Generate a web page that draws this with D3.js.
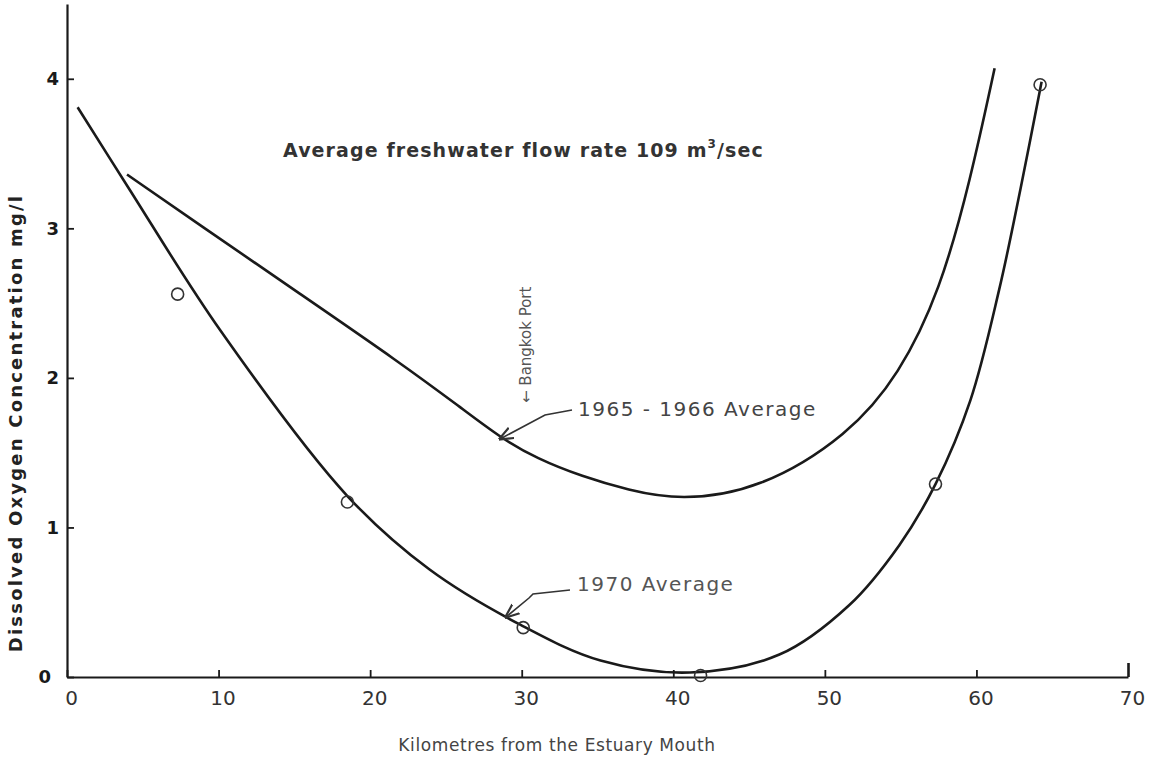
<!DOCTYPE html>
<html>
<head>
<meta charset="utf-8">
<script src="https://cdn.jsdelivr.net/npm/d3@7"></script>
<style>
  body { margin: 0; background: #fff; }
  svg text { font-family: "DejaVu Sans", "Liberation Sans", sans-serif; }
</style>
</head>
<body>
<div id="chart"></div>
<script>
// values (km from mouth, DO mg/l)
var xTicks = [0, 10, 20, 30, 40, 50, 60, 70];
var yTicks = [0, 1, 2, 3, 4];

var km1970 = [0.7, 4, 10.1, 18.5, 23.9, 29.9, 35.2, 41.1, 47.0, 51.6, 54.9, 57.3, 59.6, 61.5, 62.9, 64.3];
var do1970 = [3.81, 3.28, 2.32, 1.21, 0.72, 0.35, 0.11, 0.03, 0.15, 0.48, 0.88, 1.29, 1.85, 2.59, 3.26, 3.98];

var km6566 = [3.96, 8.8, 15.4, 22.0, 26.0, 28.6, 31.0, 34.0, 37.0, 40.4, 45.7, 51.6, 54.9, 57.6, 59.6, 61.2];
var do6566 = [3.36, 3.02, 2.56, 2.10, 1.80, 1.60, 1.46, 1.34, 1.25, 1.18, 1.25, 1.62, 2.02, 2.58, 3.32, 4.07];

var obsKm = [7.3, 18.5, 30.1, 41.8, 57.3, 64.2];
var obsDo = [2.56, 1.17, 0.33, 0.01, 1.29, 3.96];

var width = 1161, height = 770;
var margin = {left: 67, right: 33, top: 4, bottom: 93};

var svg = d3.select("#chart").append("svg")
    .attr("width", width)
    .attr("height", height);

var x = d3.scaleLinear()
    .domain([0, 70])
    .range([margin.left, width - margin.right]);
var y = d3.scaleLinear()
    .domain([0, 4.5])
    .range([height - margin.bottom, margin.top]);

var ink = "#1a1a1a";

// axes
var xAxis = svg.append("g")
    .attr("transform", "translate(0," + y(0) + ")")
    .call(d3.axisBottom(x).tickValues(xTicks).tickSizeInner(-7).tickSizeOuter(0).tickPadding(14));
xAxis.select(".domain").attr("stroke", ink).attr("stroke-width", 2.2);
xAxis.selectAll(".tick line").attr("stroke", ink).attr("stroke-width", 1.8);
xAxis.selectAll(".tick").filter(function(d) { return d == 70; }).select("line")
    .attr("y2", -14).attr("stroke-width", 2.6);
xAxis.selectAll(".tick text")
    .attr("font-size", 20)
    .attr("dx", 4)
    .attr("fill", "#333");

var yAxis = svg.append("g")
    .attr("transform", "translate(" + x(0) + ",0)")
    .call(d3.axisLeft(y).tickValues(yTicks).tickFormat(d3.format("d"))
        .tickSizeInner(-7).tickSizeOuter(0).tickPadding(8));
yAxis.select(".domain").attr("stroke", ink).attr("stroke-width", 2.2);
yAxis.selectAll(".tick line").attr("stroke", ink).attr("stroke-width", 1.8);
yAxis.selectAll(".tick text")
    .attr("font-size", 18)
    .attr("font-weight", "bold")
    .attr("fill", ink);
yAxis.selectAll(".tick").filter(function(d) { return d == 0; }).select("text")
    .attr("dx", -8);

// axis titles
svg.append("text")
    .attr("transform", "translate(22,423) rotate(-90)")
    .attr("text-anchor", "middle")
    .attr("font-size", 18)
    .attr("font-weight", "bold")
    .attr("letter-spacing", 2.2)
    .attr("fill", "#222")
    .text("Dissolved Oxygen Concentration mg/l");

svg.append("text")
    .attr("x", 557)
    .attr("y", 751)
    .attr("text-anchor", "middle")
    .attr("font-size", 17)
    .attr("letter-spacing", 0.6)
    .attr("fill", "#444")
    .text("Kilometres from the Estuary Mouth");

// curves
var line = d3.line()
    .x(function(d) { return x(d[0]); })
    .y(function(d) { return y(d[1]); })
    .curve(d3.curveCatmullRom.alpha(0.5));

// the older curve is hand-faired, a basis spline gives the same soft bend
var smooth = d3.line()
    .x(function(d) { return x(d[0]); })
    .y(function(d) { return y(d[1]); })
    .curve(d3.curveBasis);

svg.append("path")
    .datum(d3.zip(km1970, do1970))
    .attr("d", line)
    .attr("fill", "none")
    .attr("stroke", ink)
    .attr("stroke-width", 2.6);

svg.append("path")
    .datum(d3.zip(km6566, do6566))
    .attr("d", smooth)
    .attr("fill", "none")
    .attr("stroke", ink)
    .attr("stroke-width", 2.6);

svg.selectAll("circle.obs")
    .data(d3.zip(obsKm, obsDo))
    .enter()
    .append("circle")
    .attr("class", "obs")
    .attr("cx", function(d) { return x(d[0]); })
    .attr("cy", function(d) { return y(d[1]); })
    .attr("r", 6)
    .attr("fill", "none")
    .attr("stroke", "#333")
    .attr("stroke-width", 1.6);

// annotations
var flow = svg.append("text")
    .attr("x", 283)
    .attr("y", 157)
    .attr("font-size", 19)
    .attr("font-weight", "bold")
    .attr("letter-spacing", 1.1)
    .attr("fill", "#333");
flow.append("tspan").text("Average freshwater flow rate 109 m");
flow.append("tspan").attr("dy", -9).attr("font-size", 12).text("3");
flow.append("tspan").attr("dy", 9).text("/sec");

svg.append("text")
    .attr("x", 578)
    .attr("y", 416)
    .attr("font-size", 20)
    .attr("letter-spacing", 1.5)
    .attr("fill", "#444")
    .text("1965 - 1966  Average");

svg.append("text")
    .attr("x", 577)
    .attr("y", 591)
    .attr("font-size", 20)
    .attr("letter-spacing", 1.5)
    .attr("fill", "#555")
    .text("1970  Average");

svg.append("text")
    .attr("transform", "translate(531,403) rotate(-90)")
    .attr("font-size", 15)
    .attr("fill", "#555")
    .text("\u2190 Bangkok Port");

// leader lines with arrow heads
svg.append("defs").append("marker")
    .attr("id", "head")
    .attr("viewBox", "0 0 10 10")
    .attr("refX", 9).attr("refY", 5)
    .attr("markerWidth", 9).attr("markerHeight", 9)
    .attr("orient", "auto")
    .append("path")
    .attr("d", "M0,1 L10,5 L0,9")
    .attr("fill", "none")
    .attr("stroke", "#333")
    .attr("stroke-width", 1.5);

svg.append("path")
    .attr("d", "M572,410 L545,415 L500,439")
    .attr("fill", "none")
    .attr("stroke", "#333")
    .attr("stroke-width", 1.6)
    .attr("marker-end", "url(#head)");

svg.append("path")
    .attr("d", "M570,590 L533,594 L529,598 L506,617")
    .attr("fill", "none")
    .attr("stroke", "#333")
    .attr("stroke-width", 1.6)
    .attr("marker-end", "url(#head)");
</script>
</body>
</html>
